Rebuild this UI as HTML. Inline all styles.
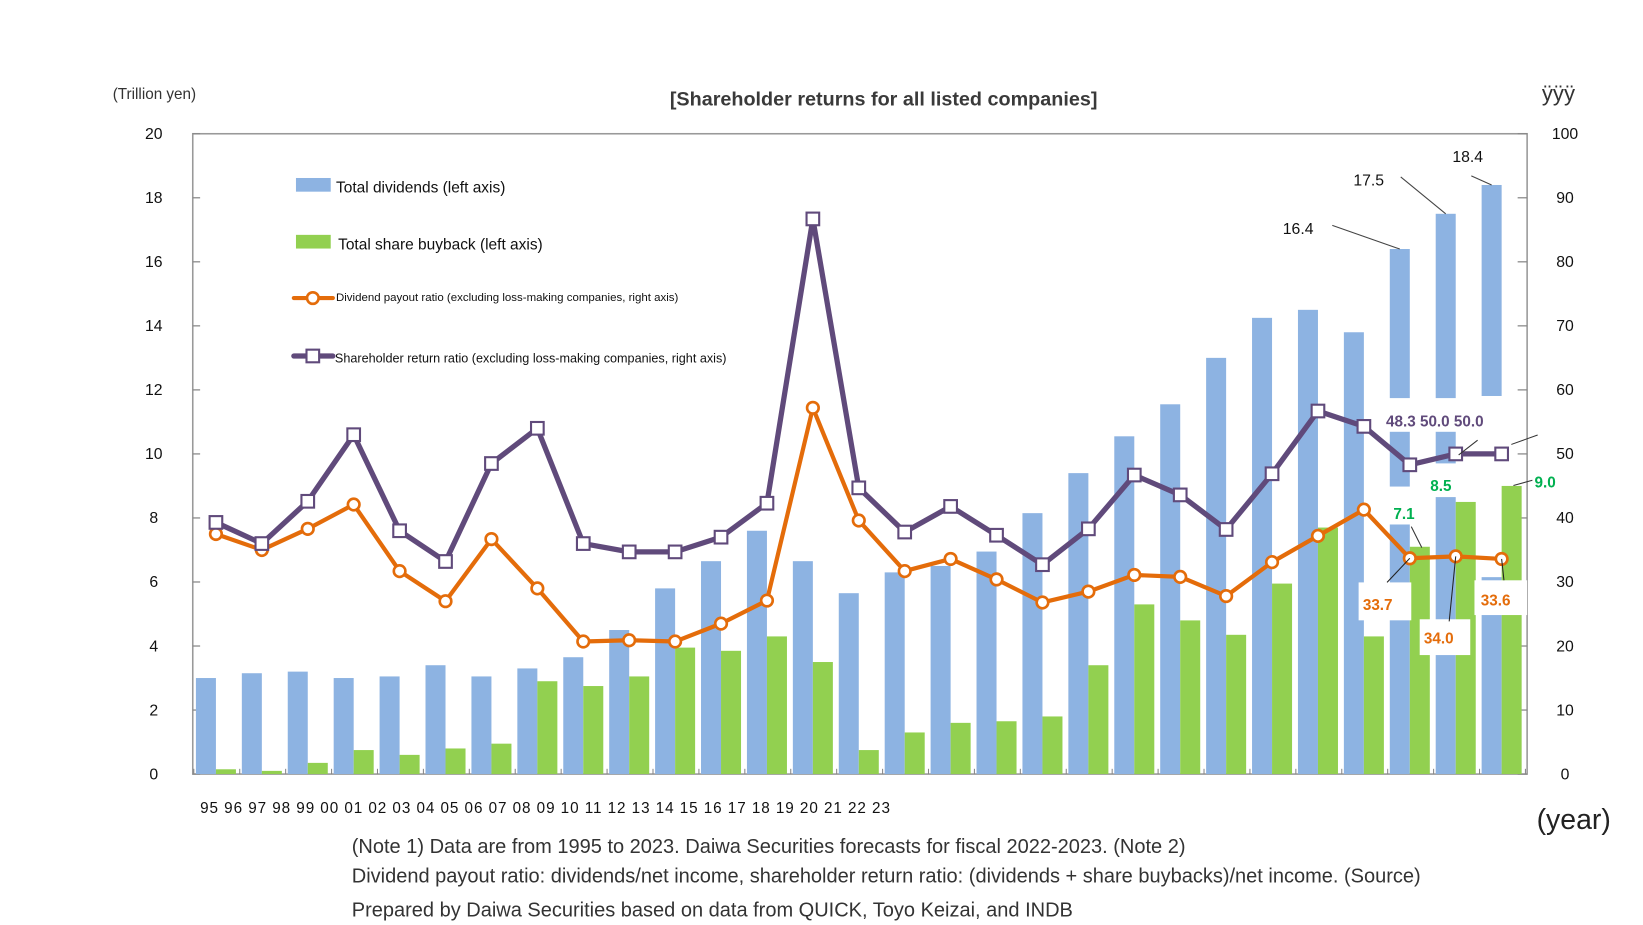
<!DOCTYPE html>
<html><head><meta charset="utf-8">
<style>
html,body{margin:0;padding:0;background:#fff;}
svg{display:block;font-family:"Liberation Sans",Arial,sans-serif;}
</style></head>
<body>
<svg id="chart" width="1643" height="925" viewBox="0 0 1560 878.3" xmlns="http://www.w3.org/2000/svg">
<g id="bg"></g>
<g id="bars"></g>
<g id="masks"></g>
<g id="bars2"></g>
<g id="lines"></g>
<g id="labels"></g>
</svg>
<script>
const categories = ["95","96","97","98","99","00","01","02","03","04","05","06","07","08","09","10","11","12","13","14","15","16","17","18","19","20","21","22","23"];
const dividends = [3.0,3.15,3.2,3.0,3.05,3.4,3.05,3.3,3.65,4.5,5.8,6.65,7.6,6.65,5.65,6.3,6.5,6.95,8.15,9.4,10.55,11.55,13.0,14.25,14.5,13.8,16.4,17.5,18.4];
const buybacks = [0.15,0.1,0.35,0.75,0.6,0.8,0.95,2.9,2.75,3.05,3.95,3.85,4.3,3.5,0.75,1.3,1.6,1.65,1.8,3.4,5.3,4.8,4.35,5.95,7.7,4.3,7.1,8.5,9.0];
const returnRatio = [39.3,36,42.6,53,38,33.2,48.5,54,36,34.7,34.7,37,42.3,86.7,44.7,37.8,41.8,37.3,32.7,38.3,46.7,43.6,38.2,46.9,56.7,54.3,48.3,50,50];
const payoutRatio = [37.5,35,38.3,42.1,31.7,27,36.7,29,20.7,20.9,20.7,23.5,27.1,57.2,39.6,31.7,33.6,30.4,26.8,28.5,31.1,30.8,27.8,33.1,37.2,41.3,33.7,34.0,33.6];
const leftTicks = ["0","2","4","6","8","10","12","14","16","18","20"];
const rightTicks = ["0","10","20","30","40","50","60","70","80","90","100"];

const NS="http://www.w3.org/2000/svg";
const L=183,R=1450,T=127,B=735;
const step=43.6, bw=19, x0=186;
const yL=v=>B-(v/20)*(B-T);
const yR=v=>B-(v/100)*(B-T);
const xBlue=i=>x0+i*step;
const xPt=i=>x0+i*step+bw;
function mk(tag,attrs,parent,text){const e=document.createElementNS(NS,tag);for(const k in attrs)e.setAttribute(k,attrs[k]);if(text!==undefined)e.textContent=text;document.getElementById(parent).appendChild(e);return e;}

let e;
e=mk('text',{x:107,y:94,'font-size':14.5,fill:'#333'},'bg','(Trillion yen)');


e=mk('text',{x:839,y:100,'font-size':18.8,'font-weight':'bold',fill:'#3a3a3a','text-anchor':'middle'},'bg','[Shareholder returns for all listed companies]');


e=mk('text',{x:1464,y:96,'font-size':21,fill:'#333'},'bg','ÿÿÿ');


e=mk('rect',{x:L,y:T,width:R-L,height:B-T,fill:'none',stroke:'#999','stroke-width':1.5},'bg');


leftTicks.forEach((t,i)=>{const v=+t;const y=yL(v);
  e=mk('text',{x:146,y:y+5,'font-size':15,fill:'#111','text-anchor':'middle'},'bg',t);
  
  
  mk('line',{x1:L,x2:L+7,y1:y,y2:y,stroke:'#888','stroke-width':1.2},'bg');
});
rightTicks.forEach((t,i)=>{const v=+t;const y=yR(v);
  e=mk('text',{x:1486,y:y+5,'font-size':15,fill:'#111','text-anchor':'middle'},'bg',t);
  
  
  mk('line',{x1:R-9,x2:R,y1:y,y2:y,stroke:'#888','stroke-width':1.2},'bg');
});
for(let i=0;i<=categories.length;i++){const x=x0-2+i*step;mk('line',{x1:x,x2:x,y1:B-5,y2:B,stroke:'#888'},'bg');}
e=mk('text',{x:190,y:772,'font-size':14.5,fill:'#111',textLength:655,lengthAdjust:'spacing'},'bg',categories.join(' '));


e=mk('text',{x:1459,y:787,'font-size':27,fill:'#222'},'bg','(year)');


const notes=["(Note 1) Data are from 1995 to 2023. Daiwa Securities forecasts for fiscal 2022-2023. (Note 2)","Dividend payout ratio: dividends/net income, shareholder return ratio: (dividends + share buybacks)/net income. (Source)","Prepared by Daiwa Securities based on data from QUICK, Toyo Keizai, and INDB"];
[810,838,870].forEach((y,i)=>{e=mk('text',{x:334,y:y,'font-size':19,fill:'#333'},'bg',notes[i]);
  
  });

dividends.forEach((v,i)=>{e=mk('rect',{x:xBlue(i),y:yL(v),width:bw,height:B-yL(v),fill:'#8db3e2'},'bars');
  
  });
[[1312,378,112,32],[1318,462,32,36],[1355,440,35,32],[1405,376,24,172]].forEach(r=>mk('rect',{x:r[0],y:r[1],width:r[2],height:r[3],fill:'#fff'},'masks'));
buybacks.forEach((v,i)=>{e=mk('rect',{x:xBlue(i)+bw,y:yL(v),width:bw,height:B-yL(v),fill:'#92d050'},'bars2');
  
  });

function series(vals,color,w,name){
  const pts=vals.map((v,i)=>xPt(i)+','+yR(v)).join(' ');
  e=mk('polyline',{points:pts,fill:'none',stroke:color,'stroke-width':w,'stroke-linejoin':'round'},'lines');
  
  
}
series(payoutRatio,'#e46c0a',4,'payout-ratio');
series(returnRatio,'#604a7b',5,'return-ratio');
payoutRatio.forEach((v,i)=>{e=mk('circle',{cx:xPt(i),cy:yR(v),r:5.5,fill:'#fff',stroke:'#e46c0a','stroke-width':2.5},'lines');
  
  });
returnRatio.forEach((v,i)=>{e=mk('rect',{x:xPt(i)-6,y:yR(v)-6,width:12,height:12,fill:'#fff',stroke:'#604a7b','stroke-width':2},'lines');
  
  });

mk('rect',{x:281,y:169,width:33,height:13,fill:'#8db3e2'},'labels');
e=mk('text',{x:319,y:183,'font-size':14.7,fill:'#111'},'labels','Total dividends (left axis)');


mk('rect',{x:281,y:223,width:33,height:13,fill:'#92d050'},'labels');
e=mk('text',{x:321,y:237,'font-size':14.7,fill:'#111'},'labels','Total share buyback (left axis)');


mk('line',{x1:279,x2:316,y1:283,y2:283,stroke:'#e46c0a','stroke-width':4,'stroke-linecap':'round'},'labels');
mk('circle',{cx:297,cy:283,r:5.5,fill:'#fff',stroke:'#e46c0a','stroke-width':2.5},'labels');
e=mk('text',{x:319,y:286,'font-size':10.9,fill:'#111'},'labels','Dividend payout ratio (excluding loss-making companies, right axis)');


mk('line',{x1:279,x2:316,y1:338,y2:338,stroke:'#604a7b','stroke-width':5,'stroke-linecap':'round'},'labels');
mk('rect',{x:291,y:332,width:12,height:12,fill:'#fff',stroke:'#604a7b','stroke-width':2},'labels');
e=mk('text',{x:318,y:344,'font-size':12,fill:'#111'},'labels','Shareholder return ratio (excluding loss-making companies, right axis)');



const n=categories.length;
function lbl(txt,x,y,color,bold,size,name){e=mk('text',{x:x,y:y,'font-size':size||15,fill:color,'font-weight':bold?'bold':'normal'},'labels',txt);
  
  }
[[1265,214,xBlue(n-3)+bw/2,yL(dividends[n-3])],[1330,168,xBlue(n-2)+bw/2,yL(dividends[n-2])],[1397,167,xBlue(n-1)+bw/2,yL(dividends[n-1])]].forEach(l=>mk('line',{x1:l[0],y1:l[1],x2:l[2],y2:l[3],stroke:'#444','stroke-width':1},'labels'));
lbl(dividends[n-3].toFixed(1),1218,222,'#111',false,15,'label-dividends-21');
lbl(dividends[n-2].toFixed(1),1285,176,'#111',false,15,'label-dividends-22');
lbl(dividends[n-1].toFixed(1),1379,154,'#111',false,15,'label-dividends-23');
lbl(returnRatio[n-3].toFixed(1)+' '+returnRatio[n-2].toFixed(1)+' '+returnRatio[n-1].toFixed(1),1316,405,'#604a7b',true,14.5,'label-return-ratio');
mk('line',{x1:1403,y1:418,x2:1385,y2:432,stroke:'#333'},'labels');
mk('line',{x1:1435,y1:422,x2:1460,y2:413,stroke:'#333'},'labels');
lbl(buybacks[n-3].toFixed(1),1323,493,'#00b050',true,14.5,'label-buyback-21');
lbl(buybacks[n-2].toFixed(1),1358,466,'#00b050',true,14.5,'label-buyback-22');
lbl(buybacks[n-1].toFixed(1),1457,463,'#00b050',true,14.5,'label-buyback-23');
mk('line',{x1:1340,y1:500,x2:1350,y2:520,stroke:'#333'},'labels');
mk('line',{x1:1437,y1:461,x2:1455,y2:456,stroke:'#333'},'labels');
mk('rect',{x:1290,y:553,width:50,height:36,fill:'#fff'},'labels');
mk('rect',{x:1348,y:588,width:48,height:34,fill:'#fff'},'labels');
mk('rect',{x:1400,y:551,width:50,height:33,fill:'#fff'},'labels');
mk('line',{x1:xPt(n-3),y1:yR(payoutRatio[n-3]),x2:1317,y2:553,stroke:'#222'},'labels');
mk('line',{x1:xPt(n-2),y1:yR(payoutRatio[n-2]),x2:1376,y2:590,stroke:'#222'},'labels');
mk('line',{x1:xPt(n-1),y1:yR(payoutRatio[n-1]),x2:1428,y2:551,stroke:'#222'},'labels');
lbl(payoutRatio[n-3].toFixed(1),1294,579,'#e46c0a',true,14.5,'label-payout-21');
lbl(payoutRatio[n-2].toFixed(1),1352,611,'#e46c0a',true,14.5,'label-payout-22');
lbl(payoutRatio[n-1].toFixed(1),1406,575,'#e46c0a',true,14.5,'label-payout-23');
</script>
</body></html>
